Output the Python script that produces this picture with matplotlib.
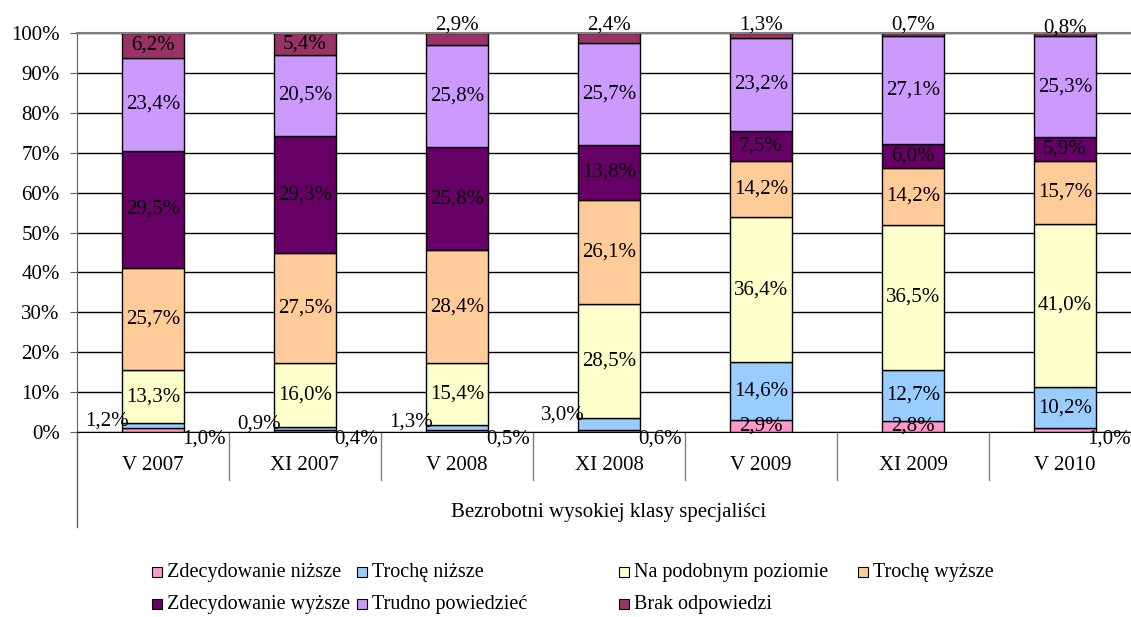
import matplotlib
matplotlib.use("Agg")
import matplotlib.pyplot as plt
import numpy as np
from matplotlib.patches import Rectangle

plt.rcParams['font.family'] = ['Liberation Serif', 'DejaVu Serif']

periods = ["V 2007", "XI 2007", "V 2008", "XI 2008", "V 2009", "XI 2009", "V 2010"]
series_names = ["Zdecydowanie niższe", "Trochę niższe", "Na podobnym poziomie", "Trochę wyższe",
                "Zdecydowanie wyższe", "Trudno powiedzieć", "Brak odpowiedzi"]
zdec_nizsze = [1.0, 0.4, 0.5, 0.6, 2.9, 2.8, 1.0]
troche_nizsze = [1.2, 0.9, 1.3, 3.0, 14.6, 12.7, 10.2]
podobny = [13.3, 16.0, 15.4, 28.5, 36.4, 36.5, 41.0]
troche_wyzsze = [25.7, 27.5, 28.4, 26.1, 14.2, 14.2, 15.7]
zdec_wyzsze = [29.5, 29.3, 25.8, 13.8, 7.5, 6.0, 5.9]
trudno = [23.4, 20.5, 25.8, 25.7, 23.2, 27.1, 25.3]
brak = [6.2, 5.4, 2.9, 2.4, 1.3, 0.7, 0.8]
group_label = "Bezrobotni wysokiej klasy specjaliści"

colors = ["#FF99CC", "#99CCFF", "#FFFFCC", "#FFCC99", "#660066", "#CC99FF", "#993366"]

data = np.array([zdec_nizsze, troche_nizsze, podobny, troche_wyzsze, zdec_wyzsze, trudno, brak])
pct = data / data.sum(axis=0) * 100  # Excel 100% stacked

W, H = 1131, 617
fig = plt.figure(figsize=(W / 100, H / 100), dpi=100)
ax = fig.add_axes([77 / W, (H - 432) / H, 1064 / W, 399 / H])

x = np.arange(len(periods))
w = 0.408
fs = 15
bottom = np.zeros(len(periods))
for i, name in enumerate(series_names):
    ax.bar(x, pct[i], w, bottom=bottom, color=colors[i], edgecolor="black", linewidth=1.0, zorder=2)
    for j in range(len(periods)):
        v = data[i, j]
        txt = f"{v:.1f}%".replace(".", ",")
        mid = bottom[j] + pct[i, j] / 2
        top = bottom[j] + pct[i, j]
        if i == 0 and v < 2:
            dx = -0.06 if j == len(periods) - 1 else -0.01
            ax.text(x[j] + w / 2 + dx, -1.8, txt, ha="left", va="center", fontsize=fs, zorder=3)
        elif i == 1 and v < 5:
            ax.text(x[j] - w / 2 + 0.045, top + 0.6, txt, ha="right", va="center", fontsize=fs, zorder=3)
        elif i == 6 and v < 3:
            yy = 101.2 if j == 6 else 101.9
            ax.text(x[j], yy, txt, ha="center", va="center", fontsize=fs, zorder=3)
        else:
            ax.text(x[j], mid, txt, ha="center", va="center", fontsize=fs, zorder=3)
    bottom += pct[i]

ax.set_xlim(-0.5, len(periods) - 0.5)
ax.set_ylim(0, 100)
ax.set_yticks(np.arange(0, 101, 10))
ax.set_yticklabels([f"{t}%" for t in range(0, 101, 10)], fontsize=fs)
ax.set_xticks([])
ax.grid(axis="y", color="black", linewidth=1.0, zorder=0)
ax.set_axisbelow(True)
ax.spines["left"].set_color("#606060")
ax.spines["bottom"].set_color("black")
ax.spines["top"].set_color("#808080")
ax.spines["top"].set_linewidth(1.5)
ax.spines["right"].set_visible(False)
ax.tick_params(axis="y", color="#606060", length=5, pad=7.5)

# category separators and labels
tr = ax.transAxes
for k in range(1, len(periods)):
    xa = k / len(periods)
    ax.plot([xa, xa], [0, -0.12], transform=tr, color="#808080", lw=1, clip_on=False)
ax.plot([0, 0], [0, -0.239], transform=tr, color="#606060", lw=1, clip_on=False)
for j, p in enumerate(periods):
    ax.text(x[j], -34 / 399, p, transform=ax.get_xaxis_transform(), ha="center", va="center", fontsize=fs)
ax.text(0.5, -80 / 399, group_label, transform=tr, ha="center", va="center", fontsize=fs)

# legend
lfs = 14.5
leg_pos = [(152, 572), (357, 572), (619, 572), (858, 572), (152, 604), (357, 604), (619, 604)]
for i, name in enumerate(series_names):
    px, py = leg_pos[i]
    fig.patches.append(Rectangle((px / W, 1 - (py + 5) / H), 10 / W, 10 / H,
                                 transform=fig.transFigure, facecolor=colors[i],
                                 edgecolor="black", lw=0.8))
    fig.text((px + 15) / W, 1 - py / H, name, ha="left", va="center", fontsize=lfs)

fig.savefig("out.png", dpi=100)
